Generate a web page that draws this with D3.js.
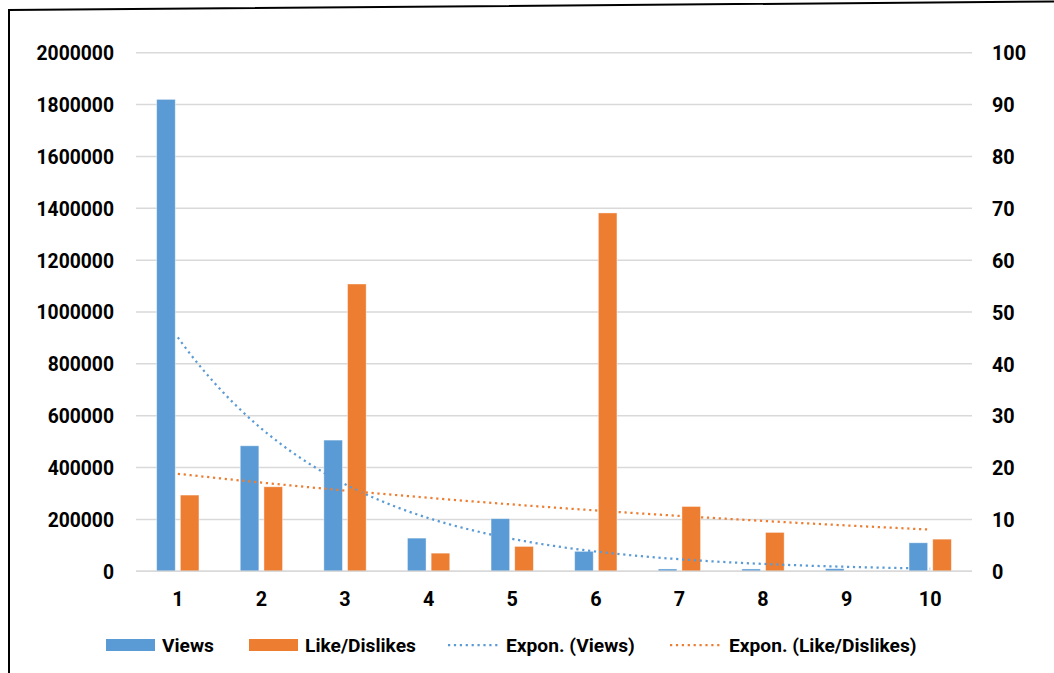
<!DOCTYPE html>
<html>
<head>
<meta charset="utf-8">
<script src="https://cdn.jsdelivr.net/npm/d3@7"></script>
<style>
  html, body { margin: 0; padding: 0; background: #fff; }
  svg { display: block; }
  text { font-family: Roboto, "Liberation Sans", sans-serif; font-weight: bold; fill: #000; }
</style>
</head>
<body>
<svg id="chart" width="1054" height="673"></svg>
<script>
// Categories and series
const categories = ["1", "2", "3", "4", "5", "6", "7", "8", "9", "10"];
const views = [1820000, 484000, 506000, 128000, 203000, 77000, 9000, 9000, 10000, 110000];
const likeDislikes = [14.7, 16.3, 55.4, 3.5, 4.8, 69.1, 12.5, 7.5, null, 6.2];

// Axis ticks
const leftTicks = [0, 200000, 400000, 600000, 800000, 1000000, 1200000, 1400000, 1600000, 1800000, 2000000];
const rightTicks = [0, 10, 20, 30, 40, 50, 60, 70, 80, 90, 100];

const legendLabels = ["Views", "Like/Dislikes", "Expon. (Views)", "Expon. (Like/Dislikes)"];

const BLUE = "#5B9BD5";
const ORANGE = "#ED7D31";
const GRID = "#d9d9d9";

const svg = d3.select("#chart");

const plot = { left: 136, right: 972, top: 52.7, bottom: 571.3 };

const x = d3.scaleBand().domain(categories).range([plot.left, plot.right]).padding(0);
const step = x.bandwidth();
const xSeries = d3.scaleBand()
  .domain(["views", "likes"])
  .range([step * 0.247, step * 0.753])
  .paddingInner(0.215)
  .paddingOuter(0);

const yLeft = d3.scaleLinear().domain([0, 2000000]).range([plot.bottom, plot.top]);
const yRight = d3.scaleLinear().domain([0, 100]).range([plot.bottom, plot.top]);

// Frame
svg.append("path")
  .attr("d", "M9,673 L9,10 L1054,1.5")
  .attr("fill", "none")
  .attr("stroke", "#000")
  .attr("stroke-width", 2);

// Gridlines
svg.append("g")
  .selectAll("line")
  .data(leftTicks)
  .join("line")
  .attr("x1", plot.left).attr("x2", plot.right)
  .attr("y1", d => yLeft(d)).attr("y2", d => yLeft(d))
  .attr("stroke", GRID)
  .attr("stroke-width", 1.5);

// Left axis labels
const leftAxis = d3.axisLeft(yLeft).tickValues(leftTicks).tickFormat(d3.format("d")).tickSize(0).tickPadding(0);
svg.append("g")
  .attr("transform", "translate(114,0)")
  .call(leftAxis)
  .call(g => g.select(".domain").remove())
  .call(g => g.selectAll("text")
    .attr("font-size", 19.3)
    .attr("font-family", "Roboto, sans-serif")
    .attr("font-weight", "bold")
    .attr("fill", "#000")
    .attr("dy", "0.36em"));

// Right axis labels
const rightAxis = d3.axisRight(yRight).tickValues(rightTicks).tickFormat(d3.format("d")).tickSize(0).tickPadding(0);
svg.append("g")
  .attr("transform", "translate(992,0)")
  .call(rightAxis)
  .call(g => g.select(".domain").remove())
  .call(g => g.selectAll("text")
    .attr("font-size", 19.8)
    .attr("font-family", "Roboto, sans-serif")
    .attr("font-weight", "bold")
    .attr("fill", "#000")
    .attr("dy", "0.36em"));

// Bars
const barGroups = svg.append("g")
  .selectAll("g")
  .data(categories)
  .join("g")
  .attr("transform", d => `translate(${x(d)},0)`);

barGroups.append("rect")
  .attr("x", xSeries("views"))
  .attr("width", xSeries.bandwidth())
  .attr("y", (d, i) => yLeft(views[i]))
  .attr("height", (d, i) => yLeft(0) - yLeft(views[i]))
  .attr("fill", BLUE)
  .attr("stroke", "#fff").attr("stroke-opacity", 0.5).attr("stroke-width", 0.8);

barGroups.filter((d, i) => likeDislikes[i] != null)
  .append("rect")
  .attr("x", xSeries("likes"))
  .attr("width", xSeries.bandwidth())
  .attr("y", d => yRight(likeDislikes[categories.indexOf(d)]))
  .attr("height", d => yRight(0) - yRight(likeDislikes[categories.indexOf(d)]))
  .attr("fill", ORANGE)
  .attr("stroke", "#fff").attr("stroke-opacity", 0.5).attr("stroke-width", 0.8);

// Category axis baseline
svg.append("line")
  .attr("x1", plot.left).attr("x2", plot.right)
  .attr("y1", plot.bottom).attr("y2", plot.bottom)
  .attr("stroke", GRID).attr("stroke-width", 1.5);

// Category labels
const bottomAxis = d3.axisBottom(x).tickSize(0).tickPadding(0);
svg.append("g")
  .attr("transform", "translate(0,592)")
  .call(bottomAxis)
  .call(g => g.select(".domain").remove())
  .call(g => g.selectAll("text")
    .attr("font-size", 19.8)
    .attr("font-family", "Roboto, sans-serif")
    .attr("font-weight", "bold")
    .attr("fill", "#000")
    .attr("dy", "0.72em"));

// Exponential least-squares trendline: y = a * exp(b * n), n = 1..N
function expFit(values) {
  const pts = values.map((v, i) => [i + 1, v]).filter(p => p[1] != null && p[1] > 0);
  const mx = d3.mean(pts, p => p[0]);
  const my = d3.mean(pts, p => Math.log(p[1]));
  const sxy = d3.sum(pts, p => (p[0] - mx) * (Math.log(p[1]) - my));
  const sxx = d3.sum(pts, p => (p[0] - mx) ** 2);
  const b = sxy / sxx;
  const a = Math.exp(my - b * mx);
  return t => a * Math.exp(b * t);
}

const xPos = t => plot.left + (t - 0.5) * step;
const samples = d3.range(1, 10.0001, 0.05);

function drawTrend(values, yScale, color) {
  const f = expFit(values);
  const line = d3.line().x(t => xPos(t)).y(t => yScale(f(t)));
  svg.append("path")
    .datum(samples)
    .attr("d", line)
    .attr("fill", "none")
    .attr("stroke", color)
    .attr("stroke-width", 2.25)
    .attr("stroke-dasharray", "2.2 3.7");
}
drawTrend(views, yLeft, BLUE);
drawTrend(likeDislikes, yRight, ORANGE);

// Legend
const legendY = 645;
const legend = svg.append("g");
const legendItems = [
  { type: "rect", color: BLUE, x0: 106, tx: 162, label: legendLabels[0] },
  { type: "rect", color: ORANGE, x0: 249, tx: 305, label: legendLabels[1] },
  { type: "line", color: BLUE, x0: 448, tx: 506, label: legendLabels[2] },
  { type: "line", color: ORANGE, x0: 670, tx: 729, label: legendLabels[3] }
];
legendItems.forEach(item => {
  if (item.type === "rect") {
    legend.append("rect")
      .attr("x", item.x0).attr("y", legendY - 6)
      .attr("width", 49).attr("height", 12)
      .attr("fill", item.color);
  } else {
    legend.append("line")
      .attr("x1", item.x0).attr("x2", item.x0 + 50)
      .attr("y1", legendY).attr("y2", legendY)
      .attr("stroke", item.color)
      .attr("stroke-width", 2.25)
      .attr("stroke-dasharray", "2.2 3.7");
  }
  legend.append("text")
    .attr("x", item.tx).attr("y", legendY)
    .attr("dy", "0.36em")
    .attr("font-size", 19.2)
    .text(item.label);
});
</script>
</body>
</html>
